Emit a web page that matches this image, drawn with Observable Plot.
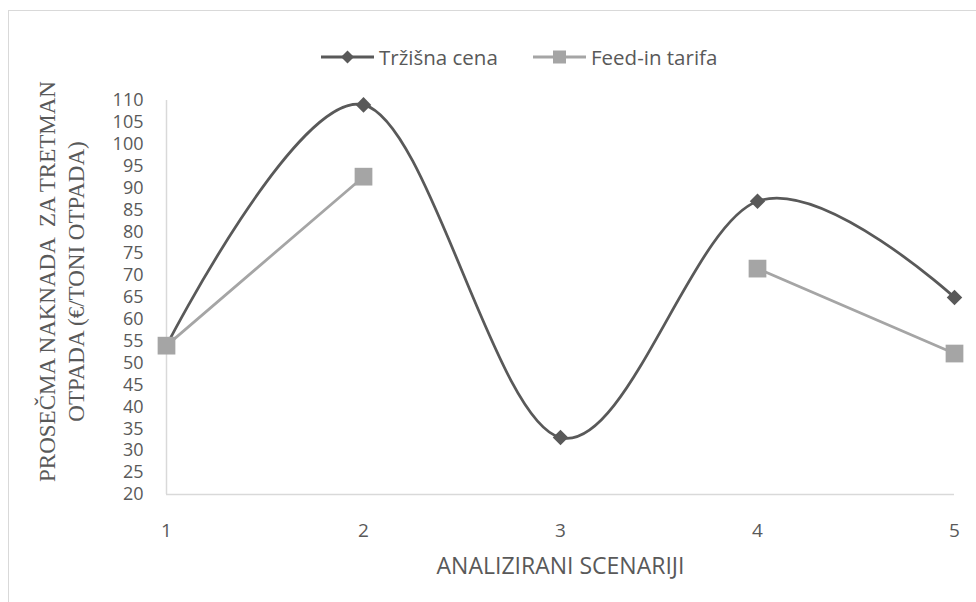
<!DOCTYPE html>
<html>
<head>
<meta charset="utf-8">
<script src="https://cdn.jsdelivr.net/npm/d3@7"></script>
<script src="https://cdn.jsdelivr.net/npm/@observablehq/plot@0.6"></script>
<style>
  html, body { margin: 0; padding: 0; background: #fff; }
  #wrap { position: relative; width: 976px; height: 602px; overflow: hidden; background: #fff; }
  #border { position: absolute; left: 8px; top: 10px; width: 1000px; height: 1000px; border: 1.5px solid #d9d9d9; box-sizing: border-box; }
  #chart { position: absolute; left: 0; top: 0; }
  .legend-item { position: absolute; top: 43px; display: flex; align-items: center; font-family: "Open Sans", sans-serif; font-size: 20.5px; color: #595959; white-space: nowrap; }
  .legend-item svg { margin-right: 5px; }
</style>
</head>
<body>
<div id="wrap">
  <div id="border"></div>
  <div id="chart"></div>
</div>
<script>
// ---- data ----
const scenarios = [1, 2, 3, 4, 5];
const trzisnaCena = [54, 109, 33, 87, 65];
const feedInTarifa = [54, 92.6, null, 71.6, 52.2];
const yTicks = d3.range(20, 111, 5);
const seriesNames = ["Tržišna cena", "Feed-in tarifa"];
const yTitle = "PROSEČMA NAKNADA  ZA TRETMAN\nOTPADA (€/TONI OTPADA)";
const xTitle = "ANALIZIRANI SCENARIJI";

const dark = "#595959", light = "#a5a5a5", axisGray = "#d9d9d9";

const trz = scenarios.map((s, i) => ({x: s, y: trzisnaCena[i]}));
const fit = scenarios.map((s, i) => ({x: s, y: feedInTarifa[i]}));

const plot = Plot.plot({
  width: 976,
  height: 602,
  marginLeft: 166,
  marginRight: 22,
  marginTop: 100,
  marginBottom: 108,
  style: {background: "transparent", color: dark, fontFamily: "'Open Sans', sans-serif", fontSize: "18px", overflow: "visible"},
  x: {domain: [1, 5]},
  y: {domain: [20, 110]},
  marks: [
    Plot.ruleX([1], {stroke: axisGray, strokeWidth: 1.5}),
    Plot.ruleY([20], {stroke: axisGray, strokeWidth: 1.5}),
    Plot.axisY({ticks: yTicks, tickSize: 0, tickPadding: 23, label: null, fontSize: 18, fill: dark}),
    Plot.axisX({ticks: scenarios, tickSize: 0, tickPadding: 29, tickFormat: d3.format("d"), fontSize: 19, fill: dark,
      label: xTitle, labelAnchor: "center", labelArrow: "none", labelOffset: 79}),
    Plot.text([yTitle], {frameAnchor: "left", textAnchor: "middle", lineAnchor: "middle", rotate: -90, dx: -106, dy: -16,
      fontFamily: "'Liberation Serif', serif", fontSize: 23, lineHeight: 1.26, fill: dark}),
    Plot.line(trz, {x: "x", y: "y", curve: "cardinal", tension: 0, stroke: dark, strokeWidth: 2.75}),
    Plot.dot(trz, {x: "x", y: "y", symbol: "diamond2", r: 7, fill: dark, stroke: null}),
    Plot.line(fit, {x: "x", y: "y", stroke: light, strokeWidth: 2.75}),
    Plot.dot(fit.filter(d => d.y != null), {x: "x", y: "y", symbol: "square", r: 10, fill: light, stroke: null})
  ]
});
document.getElementById("chart").appendChild(plot);

// x title font tweak
d3.select(plot).selectAll("[aria-label='x-axis label'] text")
  .attr("font-family", "'Liberation Sans Narrow', 'Open Sans', sans-serif").attr("font-size", 23);

// legend
const wrap = d3.select("#wrap");
[[seriesNames[0], dark, "diamond", 321], [seriesNames[1], light, "square", 533]].forEach(([name, color, shape, left]) => {
  const item = wrap.append("div").attr("class", "legend-item").style("left", left + "px");
  const svg = item.append("svg").attr("width", 53).attr("height", 16);
  svg.append("line").attr("x1", 0).attr("x2", 53).attr("y1", 8).attr("y2", 8).attr("stroke", color).attr("stroke-width", 3);
  if (shape === "diamond") svg.append("path").attr("d", "M26.5,1.5 L33,8 L26.5,14.5 L20,8 Z").attr("fill", color);
  else svg.append("rect").attr("x", 20).attr("y", 1.5).attr("width", 13).attr("height", 13).attr("fill", color);
  item.append("span").text(name);
});
</script>
</body>
</html>
